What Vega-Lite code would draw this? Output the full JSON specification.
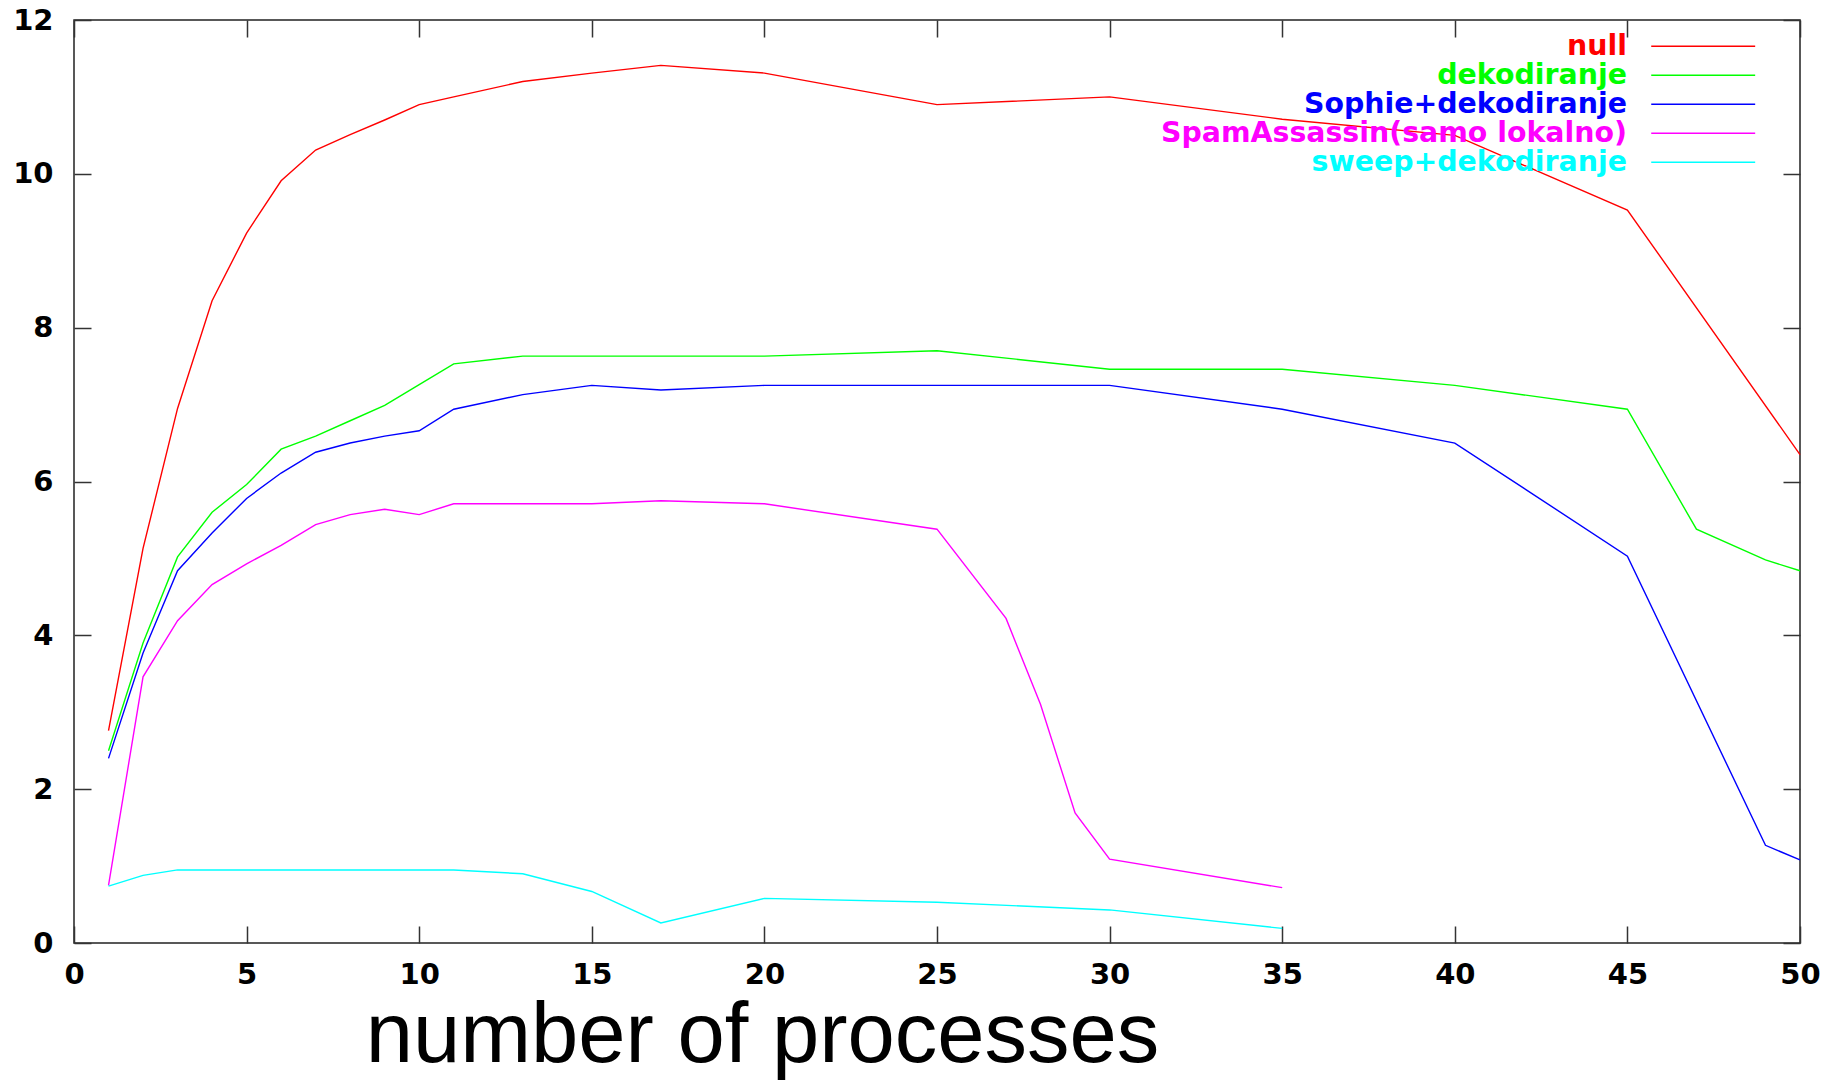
{
  "$schema": "https://vega.github.io/schema/vega-lite/v6.json",
  "width": 1726,
  "height": 923,
  "autosize": {"type": "none"},
  "padding": {"left": 74, "top": 20, "right": 39, "bottom": 139},
  "background": "white",
  "config": {
    "view": {"stroke": "#222", "strokeWidth": 1.5},
    "axis": {
      "domain": false,
      "grid": false,
      "tickSize": -17,
      "tickColor": "#333",
      "tickWidth": 1.5,
      "labelFont": "DejaVu Sans",
      "labelFontWeight": "bold",
      "labelFontSize": 29,
      "labelColor": "black"
    },
    "legend": {
      "orient": "none",
      "legendX": 1577,
      "legendY": 12,
      "padding": 0,
      "rowPadding": 0,
      "symbolType": "M-19.8,0H19.8",
      "symbolSize": 27.56,
      "symbolOffset": 38,
      "symbolStrokeWidth": 1.5,
      "labelFont": "DejaVu Sans",
      "labelFontWeight": "bold",
      "labelFontSize": 28.4,
      "labelAlign": "right",
      "labelOffset": -90.5,
      "labelLimit": 1000
    }
  },
  "data": {
    "values": [
      {"n": 1, "v": 2.76, "s": "null"},
      {"n": 2, "v": 5.13, "s": "null"},
      {"n": 3, "v": 6.95, "s": "null"},
      {"n": 4, "v": 8.35, "s": "null"},
      {"n": 5, "v": 9.23, "s": "null"},
      {"n": 6, "v": 9.91, "s": "null"},
      {"n": 7, "v": 10.31, "s": "null"},
      {"n": 8, "v": 10.51, "s": "null"},
      {"n": 9, "v": 10.7, "s": "null"},
      {"n": 10, "v": 10.9, "s": "null"},
      {"n": 11, "v": 11.0, "s": "null"},
      {"n": 13, "v": 11.2, "s": "null"},
      {"n": 15, "v": 11.31, "s": "null"},
      {"n": 17, "v": 11.41, "s": "null"},
      {"n": 20, "v": 11.31, "s": "null"},
      {"n": 25, "v": 10.9, "s": "null"},
      {"n": 30, "v": 11.0, "s": "null"},
      {"n": 35, "v": 10.71, "s": "null"},
      {"n": 40, "v": 10.5, "s": "null"},
      {"n": 45, "v": 9.53, "s": "null"},
      {"n": 50, "v": 6.35, "s": "null"},

      {"n": 1, "v": 2.5, "s": "dekodiranje"},
      {"n": 2, "v": 3.9, "s": "dekodiranje"},
      {"n": 3, "v": 5.02, "s": "dekodiranje"},
      {"n": 4, "v": 5.6, "s": "dekodiranje"},
      {"n": 5, "v": 5.96, "s": "dekodiranje"},
      {"n": 6, "v": 6.42, "s": "dekodiranje"},
      {"n": 7, "v": 6.59, "s": "dekodiranje"},
      {"n": 8, "v": 6.79, "s": "dekodiranje"},
      {"n": 9, "v": 6.99, "s": "dekodiranje"},
      {"n": 10, "v": 7.26, "s": "dekodiranje"},
      {"n": 11, "v": 7.53, "s": "dekodiranje"},
      {"n": 13, "v": 7.63, "s": "dekodiranje"},
      {"n": 15, "v": 7.63, "s": "dekodiranje"},
      {"n": 17, "v": 7.63, "s": "dekodiranje"},
      {"n": 20, "v": 7.63, "s": "dekodiranje"},
      {"n": 25, "v": 7.7, "s": "dekodiranje"},
      {"n": 30, "v": 7.46, "s": "dekodiranje"},
      {"n": 35, "v": 7.46, "s": "dekodiranje"},
      {"n": 40, "v": 7.25, "s": "dekodiranje"},
      {"n": 45, "v": 6.94, "s": "dekodiranje"},
      {"n": 47, "v": 5.38, "s": "dekodiranje"},
      {"n": 49, "v": 4.98, "s": "dekodiranje"},
      {"n": 50, "v": 4.84, "s": "dekodiranje"},

      {"n": 1, "v": 2.4, "s": "Sophie+dekodiranje"},
      {"n": 2, "v": 3.77, "s": "Sophie+dekodiranje"},
      {"n": 3, "v": 4.84, "s": "Sophie+dekodiranje"},
      {"n": 4, "v": 5.33, "s": "Sophie+dekodiranje"},
      {"n": 5, "v": 5.78, "s": "Sophie+dekodiranje"},
      {"n": 6, "v": 6.11, "s": "Sophie+dekodiranje"},
      {"n": 7, "v": 6.38, "s": "Sophie+dekodiranje"},
      {"n": 8, "v": 6.5, "s": "Sophie+dekodiranje"},
      {"n": 9, "v": 6.59, "s": "Sophie+dekodiranje"},
      {"n": 10, "v": 6.66, "s": "Sophie+dekodiranje"},
      {"n": 11, "v": 6.94, "s": "Sophie+dekodiranje"},
      {"n": 13, "v": 7.13, "s": "Sophie+dekodiranje"},
      {"n": 15, "v": 7.25, "s": "Sophie+dekodiranje"},
      {"n": 17, "v": 7.19, "s": "Sophie+dekodiranje"},
      {"n": 20, "v": 7.25, "s": "Sophie+dekodiranje"},
      {"n": 25, "v": 7.25, "s": "Sophie+dekodiranje"},
      {"n": 30, "v": 7.25, "s": "Sophie+dekodiranje"},
      {"n": 35, "v": 6.94, "s": "Sophie+dekodiranje"},
      {"n": 40, "v": 6.5, "s": "Sophie+dekodiranje"},
      {"n": 45, "v": 5.03, "s": "Sophie+dekodiranje"},
      {"n": 49, "v": 1.27, "s": "Sophie+dekodiranje"},
      {"n": 50, "v": 1.08, "s": "Sophie+dekodiranje"},

      {"n": 1, "v": 0.75, "s": "SpamAssassin(samo lokalno)"},
      {"n": 2, "v": 3.46, "s": "SpamAssassin(samo lokalno)"},
      {"n": 3, "v": 4.19, "s": "SpamAssassin(samo lokalno)"},
      {"n": 4, "v": 4.66, "s": "SpamAssassin(samo lokalno)"},
      {"n": 5, "v": 4.93, "s": "SpamAssassin(samo lokalno)"},
      {"n": 6, "v": 5.17, "s": "SpamAssassin(samo lokalno)"},
      {"n": 7, "v": 5.44, "s": "SpamAssassin(samo lokalno)"},
      {"n": 8, "v": 5.57, "s": "SpamAssassin(samo lokalno)"},
      {"n": 9, "v": 5.64, "s": "SpamAssassin(samo lokalno)"},
      {"n": 10, "v": 5.57, "s": "SpamAssassin(samo lokalno)"},
      {"n": 11, "v": 5.71, "s": "SpamAssassin(samo lokalno)"},
      {"n": 13, "v": 5.71, "s": "SpamAssassin(samo lokalno)"},
      {"n": 15, "v": 5.71, "s": "SpamAssassin(samo lokalno)"},
      {"n": 17, "v": 5.75, "s": "SpamAssassin(samo lokalno)"},
      {"n": 20, "v": 5.71, "s": "SpamAssassin(samo lokalno)"},
      {"n": 25, "v": 5.38, "s": "SpamAssassin(samo lokalno)"},
      {"n": 27, "v": 4.22, "s": "SpamAssassin(samo lokalno)"},
      {"n": 28, "v": 3.1, "s": "SpamAssassin(samo lokalno)"},
      {"n": 29, "v": 1.69, "s": "SpamAssassin(samo lokalno)"},
      {"n": 30, "v": 1.09, "s": "SpamAssassin(samo lokalno)"},
      {"n": 35, "v": 0.72, "s": "SpamAssassin(samo lokalno)"},

      {"n": 1, "v": 0.74, "s": "sweep+dekodiranje"},
      {"n": 2, "v": 0.88, "s": "sweep+dekodiranje"},
      {"n": 3, "v": 0.95, "s": "sweep+dekodiranje"},
      {"n": 5, "v": 0.95, "s": "sweep+dekodiranje"},
      {"n": 7, "v": 0.95, "s": "sweep+dekodiranje"},
      {"n": 9, "v": 0.95, "s": "sweep+dekodiranje"},
      {"n": 11, "v": 0.95, "s": "sweep+dekodiranje"},
      {"n": 13, "v": 0.9, "s": "sweep+dekodiranje"},
      {"n": 15, "v": 0.67, "s": "sweep+dekodiranje"},
      {"n": 17, "v": 0.26, "s": "sweep+dekodiranje"},
      {"n": 20, "v": 0.58, "s": "sweep+dekodiranje"},
      {"n": 25, "v": 0.53, "s": "sweep+dekodiranje"},
      {"n": 30, "v": 0.43, "s": "sweep+dekodiranje"},
      {"n": 35, "v": 0.19, "s": "sweep+dekodiranje"}
    ]
  },
  "layer": [
    {
      "mark": {"type": "line", "strokeWidth": 1.4},
      "encoding": {
        "x": {
          "field": "n", "type": "quantitative",
          "scale": {"domain": [0, 50], "nice": false},
          "axis": {
            "orient": "bottom",
            "values": [0, 5, 10, 15, 20, 25, 30, 35, 40, 45, 50],
            "labelPadding": 34,
            "labelFlush": false,
            "labelDx": 8,
            "title": "number of processes",
            "titleFont": "Liberation Sans",
            "titleFontWeight": "normal",
            "titleFontSize": 85,
            "titleColor": "black",
            "titleAlign": "center",
            "titleBaseline": "alphabetic",
            "titleX": 688,
            "titleY": 118
          }
        },
        "y": {
          "field": "v", "type": "quantitative",
          "scale": {"domain": [0, 12], "nice": false},
          "axis": {
            "orient": "left",
            "values": [0, 2, 4, 6, 8, 10, 12],
            "labelPadding": 38,
            "title": null
          }
        },
        "color": {
          "field": "s", "type": "nominal",
          "scale": {
            "domain": ["null", "dekodiranje", "Sophie+dekodiranje", "SpamAssassin(samo lokalno)", "sweep+dekodiranje"],
            "range": ["#ff0000", "#00ff00", "#0000ff", "#ff00ff", "#00ffff"]
          },
          "sort": null,
          "legend": {
            "title": null,
            "rowPadding": 0,
            "encode": {"labels": {"update": {"fill": {"scale": "color", "field": "value"}}}}
          }
        }
      }
    },
    {
      "mark": {"type": "line", "strokeOpacity": 0},
      "encoding": {
        "x": {
          "field": "n", "type": "quantitative",
          "axis": {"orient": "top", "values": [0, 5, 10, 15, 20, 25, 30, 35, 40, 45, 50], "labels": false, "title": null}
        },
        "y": {
          "field": "v", "type": "quantitative",
          "axis": {"orient": "right", "values": [0, 2, 4, 6, 8, 10, 12], "labels": false, "title": null}
        },
        "detail": {"field": "s", "type": "nominal"}
      }
    }
  ],
  "resolve": {"axis": {"x": "independent", "y": "independent"}}
}
